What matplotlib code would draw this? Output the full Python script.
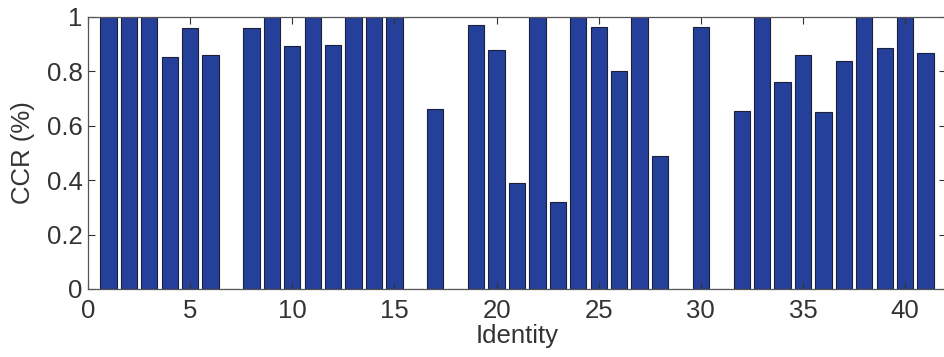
import matplotlib.pyplot as plt
import numpy as np

plt.rcParams["font.family"] = ["Liberation Sans", "DejaVu Sans"]

# CCR por identidad (0 = sin reconocimiento)
identidades = np.arange(1, 42)
ccr = [
    1.00, 1.00, 1.00, 0.853, 0.96, 0.86, 0.0, 0.96, 1.00, 0.893,
    1.00, 0.897, 1.00, 1.00, 1.00, 0.0, 0.66, 0.0, 0.97, 0.88,
    0.39, 1.00, 0.32, 1.00, 0.965, 0.80, 1.00, 0.49, 0.0, 0.965,
    0.0, 0.655, 1.00, 0.76, 0.86, 0.65, 0.84, 1.00, 0.886, 1.00,
    0.868,
]
xticks = [0, 5, 10, 15, 20, 25, 30, 35, 40]
yticks = [0, 0.2, 0.4, 0.6, 0.8, 1]

fig = plt.figure(figsize=(9.45, 3.57), dpi=100)
ax = fig.add_axes([88 / 945, 1 - 289 / 357, 858 / 945, 272 / 357])

ax.bar(identidades, ccr, width=0.8, color="#25409a", edgecolor="#1a1f3a",
       linewidth=0.8)

ax.set_xlim(0, 42)
ax.set_ylim(0, 1)
ax.set_xticks(xticks)
ax.set_yticks(yticks)
ax.set_yticklabels(["0", "0.2", "0.4", "0.6", "0.8", "1"])
ax.tick_params(direction="in", length=5, width=0.8, labelsize=18.5,
               colors="#333333", top=True, right=True)
ax.tick_params(axis="x", pad=7)
ax.tick_params(axis="y", pad=4)
for s in ax.spines.values():
    s.set_color("#555555")
    s.set_linewidth(0.9)

ax.set_xlabel("Identity", fontsize=18.5, color="#333333", labelpad=1)
ax.set_ylabel("CCR (%)", fontsize=18.5, color="#333333", labelpad=8)

fig.savefig("out.png", dpi=100)
